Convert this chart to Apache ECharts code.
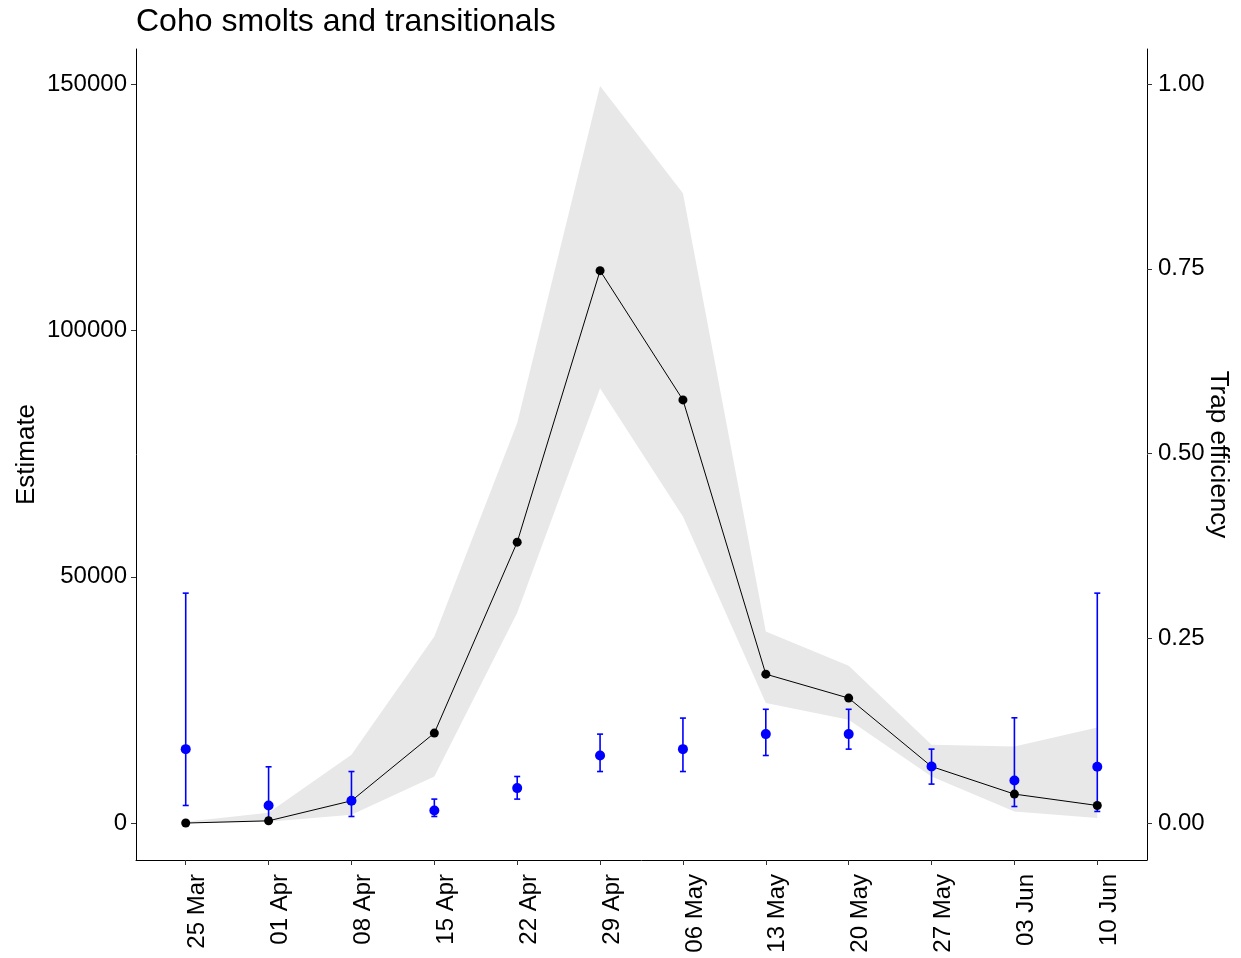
<!DOCTYPE html>
<html>
<head>
<meta charset="utf-8">
<script src="https://cdn.jsdelivr.net/npm/echarts@6/dist/echarts.min.js"></script>
<style>
  html, body { margin: 0; padding: 0; background: #ffffff; }
  #chart { width: 1241px; height: 958px; }
</style>
</head>
<body>
<div id="chart"></div>
<script>
// Weekly sampling dates
const weeks = ['25 Mar', '01 Apr', '08 Apr', '15 Apr', '22 Apr', '29 Apr',
               '06 May', '13 May', '20 May', '27 May', '03 Jun', '10 Jun'];

// Weekly abundance estimate with its confidence band (left axis)
const estimate      = [50, 500, 4560, 18300, 57040, 112130, 85900, 30260, 25400, 11520, 5920, 3610];
const estimateLower = [0, 300, 1720, 9490, 42700, 88280, 62230, 24380, 21000, 9490, 2390, 1050];
const estimateUpper = [300, 2130, 13900, 37900, 81240, 149600, 127830, 38900, 31950, 15920, 15580, 19430];

// Trap efficiency with its interval (right axis)
const efficiency      = [0.1003, 0.0241, 0.0304, 0.0173, 0.0476, 0.0917, 0.1003, 0.1206, 0.1206, 0.0768, 0.0579, 0.0764];
const efficiencyLower = [0.0241, 0.0074, 0.0092, 0.0092, 0.0327, 0.0700, 0.0700, 0.0917, 0.1003, 0.0530, 0.0227, 0.0160];
const efficiencyUpper = [0.3113, 0.0764, 0.0700, 0.0327, 0.0633, 0.1206, 0.1423, 0.1542, 0.1542, 0.1003, 0.1427, 0.3113];

// Axis tick positions
const estimateTicks   = [0, 50000, 100000, 150000];
const efficiencyTicks = [0, 0.25, 0.5, 0.75, 1];

// Secondary axis is the primary axis divided by this factor
const SCALE = 150000;
const EST_MIN = -7450, EST_MAX = 157100;

const FONT = '"Liberation Sans", Arial, sans-serif';
const weekIdx = weeks.map((_, i) => i);

const chart = echarts.init(document.getElementById('chart'), null, { renderer: 'canvas' });

const axisLineStyle = { color: '#000000', width: 1 };
const tickStyle = { color: '#333333', width: 1 };

chart.setOption({
  animation: false,
  backgroundColor: '#ffffff',
  title: {
    text: 'Coho smolts and transitionals',
    left: 131,
    top: 1,
    textStyle: { fontFamily: FONT, fontSize: 32, fontWeight: 'normal', color: '#000000' }
  },
  grid: {
    left: 136, right: 94, top: 49, bottom: 98,
    containLabel: false,
    outerBoundsMode: 'none'
  },
  xAxis: {
    type: 'value',
    min: -0.6,
    max: 11.6,
    splitLine: { show: false },
    axisLine: { show: true, onZero: false, lineStyle: axisLineStyle },
    axisTick: { show: true, length: 5, customValues: weekIdx, lineStyle: tickStyle },
    axisLabel: {
      customValues: weekIdx,
      formatter: v => weeks[Math.round(v)],
      rotate: 90,
      margin: 14,
      verticalAlign: 'top',
      fontFamily: FONT,
      fontSize: 24,
      color: '#000000'
    }
  },
  yAxis: [
    {
      type: 'value',
      position: 'left',
      min: EST_MIN,
      max: EST_MAX,
      name: 'Estimate',
      nameLocation: 'middle',
      nameRotate: 90,
      nameGap: 96,
      nameMoveOverlap: false,
      nameTextStyle: { fontFamily: FONT, fontSize: 26, color: '#000000' },
      splitLine: { show: false },
      axisLine: { show: true, onZero: false, lineStyle: axisLineStyle },
      axisTick: { show: true, length: 5, customValues: estimateTicks, lineStyle: tickStyle },
      axisLabel: {
        customValues: estimateTicks,
        formatter: v => String(v),
        margin: 9,
        padding: [6, 0, 0, 0],
        fontFamily: FONT,
        fontSize: 24,
        color: '#000000'
      }
    },
    {
      type: 'value',
      position: 'right',
      min: EST_MIN / SCALE,
      max: EST_MAX / SCALE,
      name: 'Trap efficiency',
      nameLocation: 'middle',
      nameRotate: -90,
      nameGap: 58,
      nameMoveOverlap: false,
      nameTextStyle: { fontFamily: FONT, fontSize: 26, color: '#000000' },
      splitLine: { show: false },
      axisLine: { show: true, onZero: false, lineStyle: axisLineStyle },
      axisTick: { show: true, length: 5, customValues: efficiencyTicks, lineStyle: tickStyle },
      axisLabel: {
        customValues: efficiencyTicks,
        formatter: v => v.toFixed(2),
        margin: 11,
        padding: [6, 0, 0, 0],
        fontFamily: FONT,
        fontSize: 24,
        color: '#000000'
      }
    }
  ],
  series: [
    {
      // confidence band of the estimate
      type: 'custom',
      name: 'band',
      xAxisIndex: 0,
      yAxisIndex: 0,
      silent: true,
      z: 1,
      data: weekIdx.map(i => [i, estimateLower[i], estimateUpper[i]]),
      encode: { x: 0, y: [1, 2] },
      renderItem: function (params, api) {
        if (params.dataIndex !== 0) return null;
        const upper = estimateUpper.map((v, i) => api.coord([i, v]));
        const lower = estimateLower.map((v, i) => api.coord([i, v])).reverse();
        return {
          type: 'polygon',
          shape: { points: upper.concat(lower) },
          style: { fill: '#e8e8e8', stroke: null }
        };
      }
    },
    {
      // efficiency interval bars
      type: 'custom',
      name: 'efficiency interval',
      xAxisIndex: 0,
      yAxisIndex: 1,
      silent: true,
      z: 2,
      data: weekIdx.map(i => [i, efficiencyLower[i], efficiencyUpper[i]]),
      encode: { x: 0, y: [1, 2] },
      renderItem: function (params, api) {
        const x = api.value(0);
        const lo = api.coord([x, api.value(1)]);
        const hi = api.coord([x, api.value(2)]);
        const hw = 3;
        const st = { stroke: '#0000ff', lineWidth: 1.6 };
        return {
          type: 'group',
          children: [
            { type: 'line', shape: { x1: lo[0], y1: lo[1], x2: hi[0], y2: hi[1] }, style: st },
            { type: 'line', shape: { x1: hi[0] - hw, y1: hi[1], x2: hi[0] + hw, y2: hi[1] }, style: st },
            { type: 'line', shape: { x1: lo[0] - hw, y1: lo[1], x2: lo[0] + hw, y2: lo[1] }, style: st }
          ]
        };
      }
    },
    {
      type: 'line',
      name: 'Estimate',
      xAxisIndex: 0,
      yAxisIndex: 0,
      z: 3,
      data: weekIdx.map(i => [i, estimate[i]]),
      symbol: 'circle',
      symbolSize: 9,
      showSymbol: true,
      itemStyle: { color: '#000000' },
      lineStyle: { color: '#000000', width: 1 }
    },
    {
      type: 'scatter',
      name: 'Trap efficiency',
      xAxisIndex: 0,
      yAxisIndex: 1,
      z: 4,
      data: weekIdx.map(i => [i, efficiency[i]]),
      symbol: 'circle',
      symbolSize: 10,
      itemStyle: { color: '#0000ff', opacity: 1 }
    }
  ]
});
</script>
</body>
</html>
